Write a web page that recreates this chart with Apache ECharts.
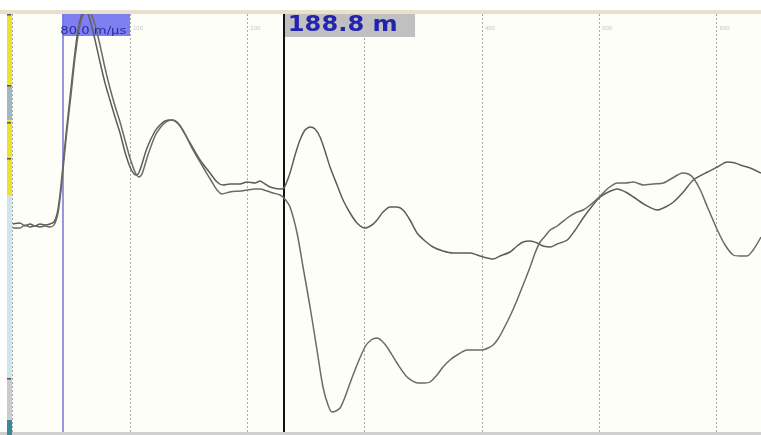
<!DOCTYPE html>
<html>
<head>
<meta charset="utf-8">
<script src="https://cdn.jsdelivr.net/npm/echarts@6/dist/echarts.min.js"></script>
<style>
html,body{margin:0;padding:0;background:#ffffff;}
#chart{width:761px;height:435px;}
</style>
</head>
<body>
<div id="chart"></div>
<script>
// distance axis (m) and amplitude (arbitrary units, 0 = baseline)
var xTicks = [100, 200, 300, 400, 500, 600];
var cursorStart = 42.3;          // blue cursor
var cursorDelta = 188.8;         // distance read-out
var velocityText = '80.0 m/\u00b5s';

var distA = [0,6.2,10.5,14.7,19.0,23.3,27.5,31.8,35.2,37.8,40.3,42.9,45.4,48.8,52.3,55.7,59.1,62.5,65.9,70.2,74.4,78.7,82.9,87.2,91.5,95.7,100.0,103.4,105.9,108.5,114.5,121.3,125.6,129.9,134.1,138.4,142.6,151.2,159.7,168.2,174.2,179.3,185.2,193.8,199.7,206.6,210.8,215.1,219.4,227.9,231.3,
  236.4,240.7,244.9,249.2,253.5,257.7,262.0,266.2,270.5,276.5,281.6,287.6,293.5,300.3,306.3,310.6,315.7,321.7,327.6,332.8,338.7,344.7,351.5,358.3,366.8,375.4,383.9,389.9,395.8,400.9,409.5,415.4,424.0,430.0,435.1,441.1,447.1,452.2,458.2,464.1,472.7,479.5,486.3,494.0,500.9,
  507.8,515.5,522.3,529.2,539.4,549.6,556.5,563.3,571.7,580.2,592.2,600.7,609.1,615.9,620.2,628.7,637.9];
var ampA = [2,3,0,2,0,2,1,2,4,12,31,61,91,128,166,196,212,216,206,186,164,143,126,109,93,74,59,52,51,56,78,95,101,105,106,105,100,83,66,53,44,41,42,42,44,43,45,42,39,37,38,
  53,71,86,96,99,97,89,75,59,41,26,13,3,-2,1,6,14,19,19,16,6,-7,-15,-21,-25,-27,-27,-27,-29,-31,-33,-30,-26,-20,-16,-15,-17,-20,-21,-18,-14,-4,8,20,29,
  34,37,34,29,21,16,19,24,34,46,54,59,64,63,61,58,53];

var distB = [0,6.2,10.5,14.7,19.0,23.3,27.5,31.8,35.2,38.6,41.2,43.7,46.3,49.7,53.1,56.5,59.9,63.3,66.8,70.2,74.4,78.7,82.9,87.2,91.5,95.7,100.0,104.3,107.7,110.2,115.3,121.3,125.6,130.7,135.8,140.1,145.2,153.7,162.2,169.9,174.2,178.4,185.2,193.8,199.7,206.6,210.8,216.8,221.9,227.9,231.3,
  236.4,242.4,247.5,253.5,259.4,264.5,268.8,272.2,275.6,279.1,283.3,287.6,293.5,300.3,305.5,310.6,314.8,319.1,327.6,336.2,345.5,351.5,355.7,361.7,366.8,372.8,378.8,387.3,394.1,400.1,405.2,409.5,413.7,418.0,424.0,430.0,435.1,441.1,445.3,449.6,453.9,458.2,464.1,472.7,479.5,486.3,492.3,500.9,
  507.8,515.5,522.3,529.2,537.7,546.2,554.7,562.4,571.0,576.0,580.2,586.2,592.2,600.7,607.3,614.2,620.2,626.1,631.2,637.9];
var ampB = [-2,-2,1,-1,0,-1,0,-1,1,13,36,66,96,131,168,196,211,214,212,201,181,158,138,120,104,86,68,54,49,52,71,90,98,104,106,104,96,76,59,44,36,32,34,35,36,37,37,35,33,31,28,
  19,-7,-41,-81,-124,-161,-179,-186,-185,-182,-171,-157,-139,-121,-114,-112,-115,-121,-137,-151,-157,-157,-156,-149,-141,-134,-129,-124,-124,-124,-122,-119,-113,-104,-90,-74,-59,-41,-27,-16,-10,-4,0,8,13,16,21,30,
  38,43,43,44,41,42,43,48,53,52,48,36,19,-4,-19,-29,-30,-30,-24,-11];

function pairs(xs, ys){ return xs.map(function(x,i){ return [x, ys[i]]; }); }

var chart = echarts.init(document.getElementById('chart'), null, {renderer:'canvas'});
var cursorEnd = +(cursorStart + cursorDelta).toFixed(1);
var readoutText = cursorDelta.toFixed(1) + ' m';

var decor = [
  {type:'rect', shape:{x:0, y:10, width:761, height:4}, style:{fill:'#e7e0cc'}, z:10},
  {type:'rect', shape:{x:0, y:432, width:761, height:3}, style:{fill:'#cfcfcf'}, z:10},
  {type:'rect', shape:{x:7, y:14, width:5, height:71}, style:{fill:'#ede32e'}, z:10},
  {type:'rect', shape:{x:7, y:85, width:5, height:35}, style:{fill:'#a2b6c4'}, z:10},
  {type:'rect', shape:{x:7, y:120, width:5, height:75}, style:{fill:'#ede32e'}, z:10},
  {type:'rect', shape:{x:7, y:195, width:5, height:183}, style:{fill:'#cde6ec'}, z:10},
  {type:'rect', shape:{x:7, y:378, width:5, height:42}, style:{fill:'#cccccc'}, z:10},
  {type:'rect', shape:{x:7, y:420, width:5, height:15}, style:{fill:'#3a8898'}, z:10},
  {type:'rect', shape:{x:7, y:14, width:4, height:1.5}, style:{fill:'#555'}, z:11},
  {type:'rect', shape:{x:7, y:85, width:4, height:1.5}, style:{fill:'#555'}, z:11},
  {type:'rect', shape:{x:7, y:122, width:4, height:1.5}, style:{fill:'#555'}, z:11},
  {type:'rect', shape:{x:7, y:158, width:4, height:1.5}, style:{fill:'#555'}, z:11},
  {type:'rect', shape:{x:7, y:378, width:4, height:1.5}, style:{fill:'#555'}, z:11}
];

chart.setOption({
  animation:false,
  backgroundColor:'#ffffff',
  grid:{left:12.7, right:0, top:14, bottom:3, show:true, backgroundColor:'#fefef8', borderWidth:0},
  xAxis:{
    type:'value', min:0, max:637.9, interval:100, position:'top',
    axisLine:{show:false}, axisTick:{show:false},
    axisLabel:{inside:true, fontSize:6, color:'#c4c4c4', align:'left', padding:[0,0,0,3], margin:11,
      showMinLabel:false, showMaxLabel:false,
      formatter:function(v){ return xTicks.indexOf(v) >= 0 ? String(v) : ''; }},
    splitLine:{show:true, lineStyle:{color:'#a8a8a8', width:1, type:[2,2]}}
  },
  yAxis:{type:'value', min:-206, max:212, show:false, splitLine:{show:false}},
  series:[
    {
      type:'line', name:'A', data:pairs(distA, ampA), showSymbol:false, smooth:0.25,
      lineStyle:{color:'#5c5c5c', width:1.5}, z:5,
      markArea:{silent:true, data:[
        [{xAxis:cursorStart, yAxis:190, itemStyle:{color:'#7f7ff2'}}, {xAxis:100, yAxis:212}],
        [{xAxis:cursorEnd, yAxis:189, itemStyle:{color:'#c0c0c0'}}, {xAxis:343, yAxis:212}]
      ]},
      markLine:{silent:true, symbol:'none', label:{show:false}, data:[
        {xAxis:cursorStart, lineStyle:{color:'#7474d8', width:1.5, type:'solid'}},
        {xAxis:cursorEnd, lineStyle:{color:'#111111', width:2, type:'solid'}}
      ]}
    },
    {
      type:'line', name:'B', data:pairs(distB, ampB), showSymbol:false, smooth:0.25,
      lineStyle:{color:'#6a6a6a', width:1.5}, z:5
    }
  ],
  graphic:decor
});

// read-out texts (horizontally stretched like the instrument screen)
var ctx = document.createElement('canvas').getContext('2d');
function textWidth(font, s){ ctx.font = font; return ctx.measureText(s).width; }
var p1 = chart.convertToPixel({gridIndex:0}, [cursorStart, 0]);
var p2 = chart.convertToPixel({gridIndex:0}, [cursorEnd, 0]);
var f1 = '10px "DejaVu Sans"';
var f2 = 'bold 21px "DejaVu Sans"';
var s1 = 66 / textWidth(f1, velocityText);
var s2 = 110 / textWidth(f2, readoutText);
chart.setOption({graphic: decor.concat([
  {type:'text', x:p1[0]-2, y:31, scaleX:s1, z:12,
   style:{text:velocityText, font:f1, fill:'#2a2aa0', align:'left', verticalAlign:'middle'}},
  {type:'text', x:p2[0]+4, y:26, scaleX:s2, z:12,
   style:{text:readoutText, font:f2, fill:'#2323b0', align:'left', verticalAlign:'middle'}}
])});
</script>
</body>
</html>
